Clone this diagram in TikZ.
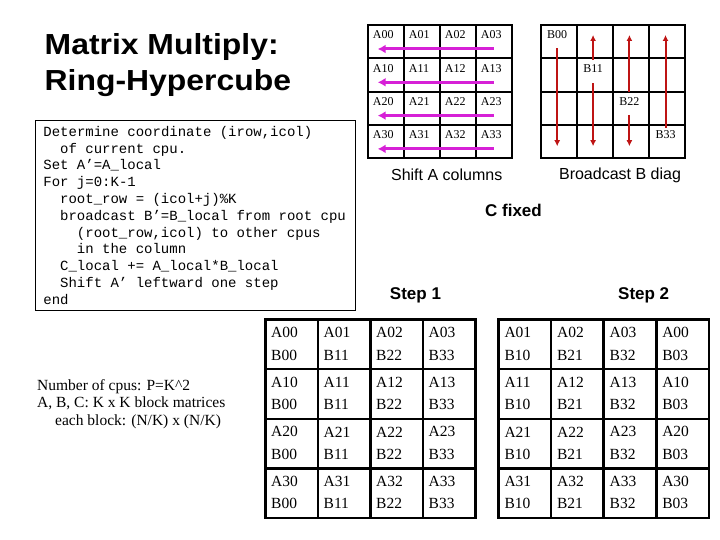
\documentclass[tikz,border=0pt]{standalone}
\usepackage{fontspec}
\setmainfont{Liberation Serif}
\setsansfont{Liberation Sans}
\setmonofont{Liberation Mono}
\usepackage{tikz}
\usetikzlibrary{positioning}
\usetikzlibrary{arrows.meta,calc}
\definecolor{shiftpink}{RGB}{214,32,214}
\definecolor{bcastred}{RGB}{190,20,20}
\tikzset{shiftline/.style={draw, shiftpink, line width=3pt, -{Latex[length=8pt,width=9pt]}}}
\tikzset{bcastline/.style={draw, bcastred, line width=2pt, -{Latex[length=6pt,width=6pt]}}}
\newcommand{\monospaces}{\frenchspacing\spaceskip=8.4pt\relax\xspaceskip=8.4pt\relax}

\begin{document}
\begin{tikzpicture}[x=1pt,y=-1pt]
\tikzstyle{topcell} = [rectangle, draw, line width=2pt, minimum width=36pt, minimum height=33.3pt, inner sep=0pt, anchor=north west]
\tikzstyle{stepcell} = [rectangle, draw, line width=2.5pt, minimum width=52.5pt, minimum height=49.6pt, inner sep=0pt, anchor=north west]
\tikzstyle{toplabel} = [anchor=west, inner sep=1pt, font=\fontsize{12}{14}\selectfont]
\tikzstyle{steplabel} = [anchor=west, inner sep=0pt, font=\fontsize{15.5}{18}\selectfont]
\tikzstyle{caption} = [font=\sffamily\fontsize{16}{19}\selectfont]
\tikzstyle{heading} = [font=\sffamily\bfseries\fontsize{17}{20}\selectfont]
\tikzstyle{titletext} = [anchor=base west, inner sep=0pt, font=\sffamily\bfseries\fontsize{29}{36}\selectfont]

\useasboundingbox (0,0) rectangle (720,540);

% title
    \node [titletext] (title) at (44.5,54.3) {\scalebox{1.1}[1]{Matrix Multiply:}};
    \node [titletext] (subtitle) at (44.5,91) {\scalebox{1.1}[1]{Ring-Hypercube}};

% A blocks, shifted left
\foreach \r in {0,...,3} {
  \foreach \c in {0,...,3} {
    \node [topcell] (a\r\c) at (366.7+36*\c, 24+33.3*\r) {};
    \node [toplabel] (al\r\c) at ($(a\r\c.north west)+(5,11)$) {A\r\c};
  }
  \coordinate (ashr\r) at ($(a\r3.north)+(0,25)$);
  \coordinate (ashl\r) at ($(a\r0.north west)+(11,25)$);
  \path [shiftline] (ashr\r) -- (ashl\r);
}

% B blocks, diagonal broadcast
\foreach \r in {0,...,3}
  \foreach \c in {0,...,3}
    \node [topcell] (b\r\c) at (540+36.1*\c, 24+33.3*\r) {};
\foreach \c in {0,...,3} {
  \node [toplabel] (bl\c) at ($(b\c\c.north west)+(6,11)$) {B\c\c};
  \coordinate (btop\c) at ($(b0\c.north)+(0,11)$);
  \coordinate (bbot\c) at ($(b3\c.south)+(0,-13)$);
}
    \path [bcastline, shorten <=8pt] (bl0.south) -- (bl0.south |- bbot0);
    \path [bcastline, shorten <=3pt] (bl1.north) -- (bl1.north |- btop1);
    \path [bcastline, shorten <=10pt] (bl1.south) -- (bl1.south |- bbot1);
    \path [bcastline, shorten <=4pt] (bl2.north) -- (bl2.north |- btop2);
    \path [bcastline, shorten <=8pt] (bl2.south) -- (bl2.south |- bbot2);
    \path [bcastline, shorten <=2pt] (bl3.north) -- (bl3.north |- btop3);

% captions
    \node [caption] (shifta) at (446.7,175) {Shift A columns};
    \node [caption] (bcastb) at (620,175) {Broadcast B diag};
    \node [heading] (cfixed) at (513.5,210) {C fixed};
    \node [heading] (step1) at (415.5,295) {Step 1};
    \node [heading] (step2) at (643.7,295) {Step 2};

% algorithm
    \node [draw, line width=0.8pt, anchor=north west, text width=304pt, inner xsep=8pt, inner ysep=3pt, minimum height=190pt, align=left, font=\ttfamily\fontsize{14}{16.8}\selectfont] (code) at (35,120) {\monospaces Determine coordinate (irow,icol)\\
\hspace*{16.8pt}of current cpu.\\
Set A’=A\_local\\
For j=0:K-1\\
\hspace*{16.8pt}root\_row = (icol+j)\%K\\
\hspace*{16.8pt}broadcast B’=B\_local from root cpu\\
\hspace*{33.6pt}(root\_row,icol) to other cpus\\
\hspace*{33.6pt}in the column\\
\hspace*{16.8pt}C\_local += A\_local*B\_local\\
\hspace*{16.8pt}Shift A’ leftward one step\\
end};

    \node [anchor=west, inner sep=0pt, align=left, font=\fontsize{15.5}{17.5}\selectfont] (info) at (37,404) {Number of cpus: P=K\textasciicircum 2\\A, B, C: K x K block matrices\\\hspace*{18pt}each block: (N/K) x (N/K)};

% step 1 and step 2
\foreach \r in {0,...,3}
  \foreach \c in {0,...,3} {
    \pgfmathtruncatemacro{\n}{mod(\c+1,4)}
    \node [stepcell] (s\r\c) at (264+52.5*\c, 318.3+49.6*\r) {};
    \node [steplabel] (sa\r\c) at ($(s\r\c.north west)+(7,14.4)$) {A\r\c};
    \node [steplabel] (sb\r\c) at ($(s\r\c.north west)+(7,36.7)$) {B\c\c};
    \node [stepcell] (t\r\c) at (497.3+52.6*\c, 318.3+49.6*\r) {};
    \node [steplabel] (ta\r\c) at ($(t\r\c.north west)+(7,14.4)$) {A\r\n};
    \node [steplabel] (tb\r\c) at ($(t\r\c.north west)+(7,36.7)$) {B\n\c};
  }

\end{tikzpicture}
\end{document}
